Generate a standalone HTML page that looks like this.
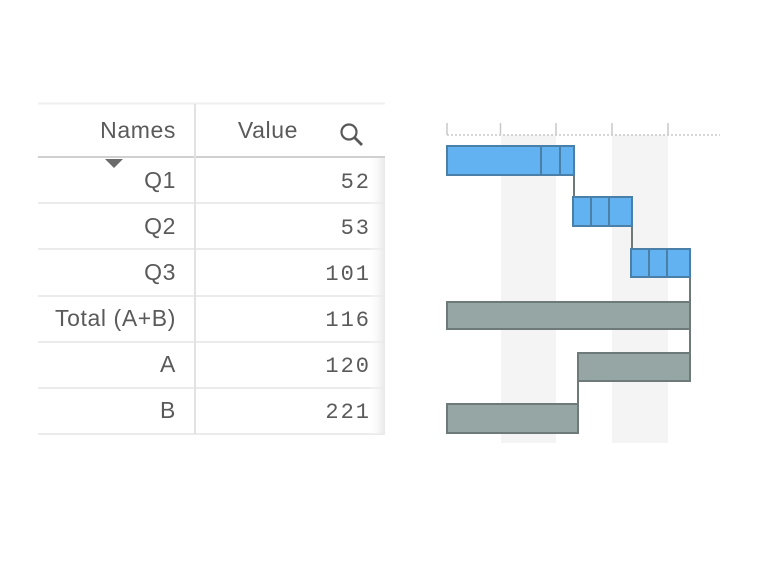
<!DOCTYPE html>
<html><head><meta charset="utf-8"><style>
html,body{margin:0;padding:0;background:#fff;width:758px;height:564px;overflow:hidden}
svg{display:block}
.n{font-family:"Liberation Sans",sans-serif;font-size:23px;letter-spacing:0.6px;fill:#5a5a5a}
.v{font-family:"Liberation Mono",monospace;font-size:22px;letter-spacing:2px;fill:#5a5a5a}
</style></head><body>
<svg width="758" height="564" viewBox="0 0 758 564">
<defs><linearGradient id="fade" x1="0" x2="1"><stop offset="0" stop-color="#fff" stop-opacity="0"/><stop offset="1" stop-color="#e8e8e8"/></linearGradient></defs>
<line x1="38" y1="103.5" x2="385" y2="103.5" stroke="#efefef" stroke-width="2"/>
<line x1="38" y1="157" x2="385" y2="157" stroke="#d0d0d0" stroke-width="2"/>
<g stroke="#ebebeb" stroke-width="2">
<line x1="38" y1="203" x2="385" y2="203"/><line x1="38" y1="249" x2="385" y2="249"/>
<line x1="38" y1="296" x2="385" y2="296"/><line x1="38" y1="342" x2="385" y2="342"/>
<line x1="38" y1="388" x2="385" y2="388"/><line x1="38" y1="434" x2="385" y2="434"/>
</g>
<line x1="195" y1="104" x2="195" y2="434" stroke="#e2e2e2" stroke-width="2"/>
<rect x="368" y="158" width="17" height="276" fill="url(#fade)"/>
<text class="n" x="176" y="138" text-anchor="end">Names</text>
<text class="n" x="298" y="138" text-anchor="end">Value</text>
<circle cx="349" cy="132" r="7.5" fill="none" stroke="#595959" stroke-width="2.2"/>
<line x1="354.5" y1="137.5" x2="362" y2="145" stroke="#595959" stroke-width="2.8"/>
<polygon points="105,159 123,159 114,168" fill="#6b6b6b"/>
<text class="n" x="176" y="188" text-anchor="end">Q1</text>
<text class="n" x="176" y="234" text-anchor="end">Q2</text>
<text class="n" x="176" y="280" text-anchor="end">Q3</text>
<text class="n" x="176" y="326" text-anchor="end">Total (A+B)</text>
<text class="n" x="176" y="372" text-anchor="end">A</text>
<text class="n" x="176" y="418" text-anchor="end">B</text>
<text class="v" x="371" y="188" text-anchor="end">52</text>
<text class="v" x="371" y="234" text-anchor="end">53</text>
<text class="v" x="371" y="280" text-anchor="end">101</text>
<text class="v" x="371" y="326" text-anchor="end">116</text>
<text class="v" x="371" y="372" text-anchor="end">120</text>
<text class="v" x="371" y="418" text-anchor="end">221</text>
<rect x="501" y="135" width="55" height="308" fill="#f4f4f4"/>
<rect x="612" y="135" width="56" height="308" fill="#f4f4f4"/>
<line x1="447" y1="135" x2="720" y2="135" stroke="#c8c8c8" stroke-width="1.5" stroke-dasharray="2,2"/>
<g stroke="#c8c8c8" stroke-width="1.5">
<line x1="447" y1="123" x2="447" y2="135"/><line x1="500.5" y1="123" x2="500.5" y2="135"/>
<line x1="556" y1="123" x2="556" y2="135"/><line x1="612" y1="123" x2="612" y2="135"/>
<line x1="668" y1="123" x2="668" y2="135"/>
</g>
<g stroke="#707878" stroke-width="2">
<line x1="574" y1="175" x2="574" y2="197"/><line x1="632" y1="226" x2="632" y2="249"/>
<line x1="690" y1="277" x2="690" y2="353"/><line x1="578" y1="381" x2="578" y2="404"/>
</g>
<g fill="#62b2f2" stroke="#4a7fa8" stroke-width="2">
<rect x="447" y="146" width="127" height="29"/>
<rect x="573" y="197" width="59" height="29"/>
<rect x="631" y="249" width="59" height="28"/>
</g>
<g stroke="#4a7fa8" stroke-width="2">
<line x1="541" y1="146" x2="541" y2="175"/><line x1="560" y1="146" x2="560" y2="175"/>
<line x1="591" y1="197" x2="591" y2="226"/><line x1="609" y1="197" x2="609" y2="226"/>
<line x1="649" y1="249" x2="649" y2="277"/><line x1="667" y1="249" x2="667" y2="277"/>
</g>
<g fill="#96a6a4" stroke="#6e7a7a" stroke-width="2">
<rect x="447" y="302" width="243" height="27"/>
<rect x="578" y="353" width="112" height="28"/>
<rect x="447" y="404" width="131" height="29"/>
</g>
</svg>
</body></html>
